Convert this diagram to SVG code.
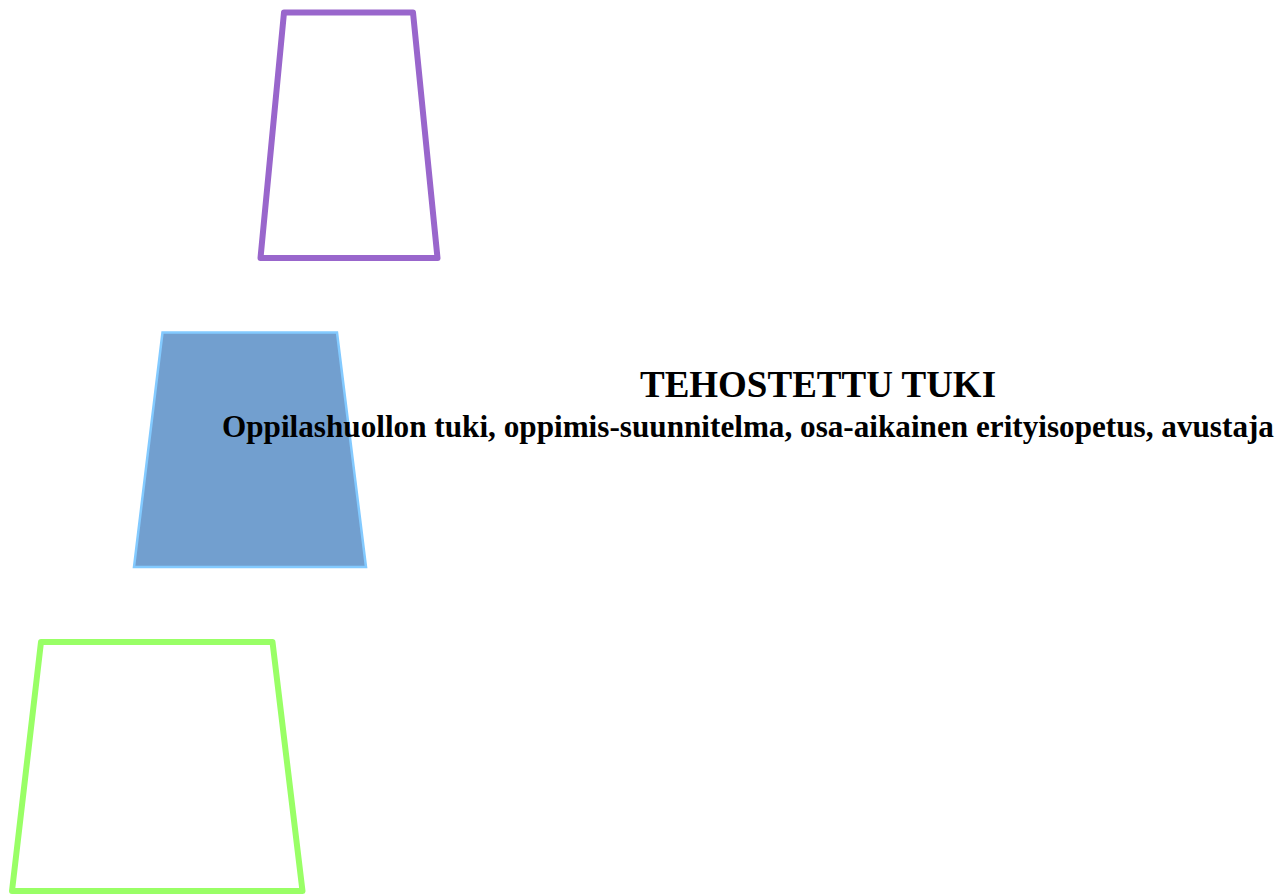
<svg xmlns="http://www.w3.org/2000/svg" width="1276" height="895" viewBox="0 0 1276 895">
<style>
.t{font-family:"Liberation Serif","Times New Roman",serif;font-weight:bold;fill:#000}
.ol{fill:none;stroke-width:6;stroke-linejoin:round}
</style>
<rect width="1276" height="895" fill="#fff"/>
<g id="node-top">
<polygon class="ol" stroke="#9966CC" points="284,12.5 413,12.5 437.5,258 260.5,258"/>
</g>
<g id="node-middle">
<polygon fill="#729FCF" stroke="#83CAFF" stroke-width="2.5" points="162.5,332.5 337,332.5 366,567 134,567"/>
<text class="t" x="818" y="397" font-size="37" text-anchor="middle">TEHOSTETTU TUKI</text>
<text class="t" x="222" y="437" font-size="31.2">Oppilashuollon tuki, oppimis-suunnitelma, osa-aikainen erityisopetus, avustaja</text>
</g>
<g id="node-bottom">
<polygon class="ol" stroke="#99FF66" points="41,642 272.5,642 302.5,891 12,891"/>
</g>
<g id="connectors"></g>
</svg>
